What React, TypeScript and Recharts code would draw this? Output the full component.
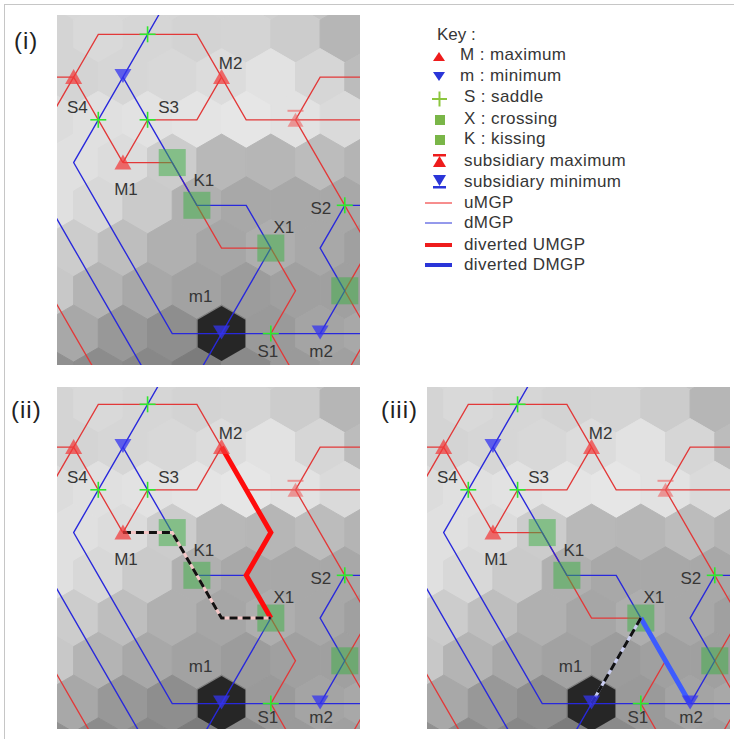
import React from "react";
import { ScatterChart, Scatter, XAxis, YAxis } from "recharts";

type Pt = [number, number];

// Cells sit on a pointy-top hex lattice: c counts half-cells across, r counts rows, c + r is even.
// Grey level of every cell, row by row from r = -1 (odd rows start at c = -1, even rows at c = 0).
const FIRST_ROW = -1;
const greyRows: number[][] = [
  [214, 216, 216, 214, 212, 208, 196, 176],
  [212, 217, 214, 211, 212, 204, 182],
  [208, 212, 214, 216, 220, 226, 214, 188],
  [220, 224, 226, 228, 230, 226, 218],
  [220, 224, 220, 204, 184, 182, 188, 180],
  [224, 216, 202, 176, 168, 168, 168],
  [216, 204, 190, 176, 166, 174, 168, 160],
  [200, 180, 168, 162, 156, 160, 160],
  [176, 168, 152, 142, 128, 154, 164, 168],
  [144, 140, 136, 124, 138, 154, 160],
];

// maximum gradient paths, through cell centres
const uMGP: Pt[][] = [
  [[-1, 1], [1, 1], [2, 0], [6, 0], [7, 1], [8, 2], [14, 2]],
  [[-1, 3], [1, 1], [2, 2], [3, 3]],
  [[3, 3], [4, 2], [6, 2], [7, 1]],
  [[3, 3], [5, 3], [6, 4], [7, 5], [9, 5], [10, 6], [9, 7], [10, 8], [11, 9]],
  [[10, 2], [11, 1], [14, 1]],
  [[10, 2], [11, 3], [12, 4], [13, 5], [12, 6], [13, 7], [12, 8], [11, 9]],
  [[-1, 5], [0, 6], [1, 7], [2, 8], [3, 9]],
];
const dMGP: Pt[][] = [
  [[5, -1], [4, 0], [3, 1], [2, 2], [1, 3], [2, 4], [3, 5], [4, 6], [5, 7], [14, 7]],
  [[3, 1], [4, 2], [5, 3], [6, 4], [8, 4], [9, 5], [8, 6], [7, 7], [6, 8], [5, 9]],
  [[14, 4], [12, 4], [11, 5], [12, 6], [11, 7]],
  [[-1, 3], [0, 4], [1, 5], [2, 6], [3, 7], [4, 8], [5, 9]],
];

const maxima: Pt[] = [[1, 1], [7, 1], [3, 3]];
const minima: Pt[] = [[3, 1], [7, 7], [11, 7]];
const saddles: Pt[] = [[4, 0], [2, 2], [4, 2], [12, 4], [9, 7]];
const crossings: Pt[] = [[9, 5], [12, 6]];
const kissings: Pt[] = [[5, 3], [6, 4]];
const subMaxima: Pt[] = [[10, 2]];
const pits: Pt[] = [[7, 7]];

const pointNames = ["S4", "S3", "M2", "M1", "K1", "X1", "S2", "m1", "S1", "m2"];
const pointAt: Pt[] = [[2, 2], [4, 2], [7, 1], [3, 3], [6, 4], [9, 5], [12, 4], [7, 7], [9, 7], [11, 7]];

// panel (ii) and (iii) changes
const divertedUp: Pt[] = [[7, 1], [8, 2], [9, 3], [8, 4], [9, 5]];
const rerouteUp: Pt[] = [[3, 3], [5, 3], [6, 4], [7, 5], [9, 5]];
const divertedDown: Pt[] = [[9, 5], [10, 6], [11, 7]];
const rerouteDown: Pt[] = [[9, 5], [8, 6], [7, 7]];

const keyLabels = [
  "M : maximum",
  "m : minimum",
  "S : saddle",
  "X : crossing",
  "K : kissing",
  "subsidiary maximum",
  "subsidiary minimum",
  "uMGP",
  "dMGP",
  "diverted UMGP",
  "diverted DMGP",
];
const panelNames = ["(i)", "(ii)", "(iii)"];

// ---- styling ----
const U = 24.65; // px per half cell
const H = 42.75; // px per row
const FONT = "'Liberation Sans', Arial, sans-serif";
const TEXT = "#363636";
const RED = "#e23838";
const BLUE = "#2828dc";

const LABEL_OFFSET: Record<string, Pt> = {
  S4: [-21, -12],
  S3: [21, -12],
  M2: [9, -14],
  M1: [3, 27],
  K1: [7, -25],
  X1: [13, -21],
  S2: [-24, 3],
  m1: [-21, -37],
  S1: [-3, 18],
  m2: [1, 18],
};

const cells = greyRows.flatMap((row, i) => {
  const r = FIRST_ROW + i;
  const c0 = r % 2 === 0 ? 0 : -1;
  return row.map((g, k) => ({ c: c0 + 2 * k, r, g }));
});
const rows = (pts: Pt[]) => pts.map(([c, r]) => ({ c, r }));
const labelRows = pointNames.map((name, i) => ({ c: pointAt[i][0], r: pointAt[i][1], name }));

const hexPoints = (cx: number, cy: number, R: number) =>
  [90, 150, 210, 270, 330, 30]
    .map((a) => {
      const t = (a * Math.PI) / 180;
      return `${cx + R * Math.cos(t)},${cy - R * Math.sin(t)}`;
    })
    .join(" ");

const noDot = () => <g />;
const hexCell = (p: any) => {
  const col = `rgb(${p.payload.g},${p.payload.g},${p.payload.g})`;
  return <polygon points={hexPoints(p.cx, p.cy, 28.5)} fill={col} stroke={col} strokeWidth={1} />;
};
const pitCell = (p: any) => <polygon points={hexPoints(p.cx, p.cy, 27.5)} fill="#262626" />;
const maxMark = (p: any) => (
  <polygon
    points={`${p.cx},${p.cy - 8} ${p.cx - 8.5},${p.cy + 7} ${p.cx + 8.5},${p.cy + 7}`}
    fill="#f23a3a"
    fillOpacity={0.72}
  />
);
const minMark = (p: any) => (
  <polygon
    points={`${p.cx - 8.5},${p.cy - 8} ${p.cx + 8.5},${p.cy - 8} ${p.cx},${p.cy + 6}`}
    fill="#3434f0"
    fillOpacity={0.75}
  />
);
const subMaxMark = (p: any) => (
  <g fill="#f06060" stroke="#f06060" fillOpacity={0.6} strokeOpacity={0.6}>
    <line x1={p.cx - 8} x2={p.cx + 8} y1={p.cy - 9} y2={p.cy - 9} strokeWidth={2} />
    <polygon points={`${p.cx},${p.cy - 7} ${p.cx - 8},${p.cy + 7} ${p.cx + 8},${p.cy + 7}`} stroke="none" />
  </g>
);
const saddleMark = (p: any) => (
  <g stroke="#2ee82e" strokeWidth={1.6}>
    <line x1={p.cx - 8} x2={p.cx + 8} y1={p.cy} y2={p.cy} />
    <line x1={p.cx} x2={p.cx} y1={p.cy - 8} y2={p.cy + 8} />
  </g>
);
const squareMark = (p: any) => (
  <rect x={p.cx - 13.5} y={p.cy - 13.5} width={27} height={27} fill="#3cb043" fillOpacity={0.5} />
);
// the lower panels are a little tighter at the bottom, so the bottom-row names sit higher there
const labelMark = (lowRowDy: number) => (p: any) => {
  const [dx, dy0] = LABEL_OFFSET[p.payload.name];
  const dy = p.payload.name === "S1" || p.payload.name === "m2" ? lowRowDy : dy0;
  return (
    <text
      x={p.cx + dx}
      y={p.cy + dy}
      textAnchor="middle"
      dominantBaseline="central"
      fontSize={17}
      fontFamily={FONT}
      fill={TEXT}
    >
      {p.payload.name}
    </text>
  );
};

function path(pts: Pt[], stroke: string, width: number, dash?: string) {
  return (
    <Scatter
      data={rows(pts)}
      line={{ stroke, strokeWidth: width, strokeDasharray: dash }}
      lineType="joint"
      shape={noDot}
      isAnimationActive={false}
    />
  );
}

function Panel({ width, height, rTop, mode }: { width: number; height: number; rTop: number; mode: number }) {
  const cLeft = 0.325;
  return (
    <ScatterChart width={width} height={height} margin={{ top: 0, right: 0, bottom: 0, left: 0 }}>
      <XAxis type="number" dataKey="c" domain={[cLeft, cLeft + width / U]} allowDataOverflow hide />
      <YAxis type="number" dataKey="r" domain={[rTop, rTop + height / H]} allowDataOverflow reversed hide />
      <Scatter data={cells} shape={hexCell} isAnimationActive={false} />
      <Scatter data={rows(pits)} shape={pitCell} isAnimationActive={false} />
      {uMGP.map((p) => path(p, RED, 1.3))}
      {dMGP.map((p) => path(p, BLUE, 1.35))}
      <Scatter data={rows([...kissings, ...crossings])} shape={squareMark} isAnimationActive={false} />
      {mode === 1 && path(divertedUp, "#ff0c0c", 5)}
      {mode === 1 && path(rerouteUp, "#f4c6c6", 3)}
      {mode === 1 && path(rerouteUp, "#111", 3, "8 5")}
      {mode === 2 && path(divertedDown, "#3d5cff", 5)}
      {mode === 2 && path(rerouteDown, "#c8ccf0", 3)}
      {mode === 2 && path(rerouteDown, "#111", 3, "8 5")}
      <Scatter data={rows(saddles)} shape={saddleMark} isAnimationActive={false} />
      <Scatter data={rows(maxima)} shape={maxMark} isAnimationActive={false} />
      <Scatter data={rows(minima)} shape={minMark} isAnimationActive={false} />
      <Scatter data={rows(subMaxima)} shape={subMaxMark} isAnimationActive={false} />
      <Scatter data={labelRows} shape={labelMark(mode === 0 ? 18 : 14)} isAnimationActive={false} />
    </ScatterChart>
  );
}

function KeyIcon({ i }: { i: number }) {
  const red = "#ee1c1c";
  const blue = "#2a35d8";
  const green = "#8cc63f";
  let icon: React.ReactNode = null;
  if (i === 0) icon = <polygon points="15,7 9,16 21,16" fill={red} />;
  if (i === 1) icon = <polygon points="9,6 21,6 15,15" fill={blue} />;
  if (i === 2)
    icon = (
      <g stroke={green} strokeWidth={2}>
        <line x1={8} x2={23} y1={12} y2={12} />
        <line x1={15.5} x2={15.5} y1={4.5} y2={19.5} />
      </g>
    );
  if (i === 3 || i === 4) icon = <rect x={11} y={6} width={10} height={10} fill="#7ab648" />;
  if (i === 5)
    icon = (
      <g fill={red}>
        <rect x={9} y={3} width={13} height={2.5} />
        <polygon points="15.5,5 9,16 22,16" />
      </g>
    );
  if (i === 6)
    icon = (
      <g fill={blue}>
        <polygon points="9,3 22,3 15.5,14" />
        <rect x={9} y={14} width={13} height={2.5} />
      </g>
    );
  if (i >= 7) {
    const col = i % 2 === 1 ? red : blue;
    icon = <line x1={1} x2={28} y1={10} y2={10} stroke={col} strokeWidth={i >= 9 ? 4 : 1} />;
  }
  return (
    <svg width={32} height={20} style={{ position: "absolute", left: 424, top: -10 }}>
      {icon}
    </svg>
  );
}

const keyRowY = [55, 76, 97, 119, 139, 161, 182, 203, 223, 245, 265];

export default function App() {
  const panels = [
    { left: 57, top: 15, height: 350, rTop: -0.4515 },
    { left: 57, top: 387, height: 342, rTop: -0.405 },
    { left: 427, top: 387, height: 342, rTop: -0.405 },
  ];
  const nameAt = [
    { x: 14, y: 41 },
    { x: 11, y: 410 },
    { x: 381, y: 410 },
  ];
  return (
    <div style={{ position: "relative", width: 734, height: 739, background: "#fff", fontFamily: FONT, overflow: "hidden" }}>
      <style>{"body{margin:0}"}</style>
      <div
        style={{
          position: "absolute",
          left: 4,
          top: 4,
          width: 760,
          height: 760,
          borderTop: "1px solid #c6c6c6",
          borderLeft: "1px solid #c6c6c6",
        }}
      />
      {panels.map((p, i) => (
        <div key={i} style={{ position: "absolute", left: p.left, top: p.top }}>
          <Panel width={303} height={p.height} rTop={p.rTop} mode={i} />
        </div>
      ))}
      {panelNames.map((n, i) => (
        <div
          key={n}
          style={{
            position: "absolute",
            left: nameAt[i].x,
            top: nameAt[i].y - 14,
            fontSize: 24,
            lineHeight: "28px",
            letterSpacing: 1,
            color: "#222",
          }}
        >
          {n}
        </div>
      ))}
      <div style={{ position: "absolute", left: 437, top: 35 - 10, fontSize: 17, lineHeight: "20px", color: TEXT }}>
        Key :
      </div>
      {keyLabels.map((t, i) => (
        <div key={t} style={{ position: "absolute", left: 0, top: keyRowY[i] }}>
          <KeyIcon i={i} />
          <div
            style={{
              position: "absolute",
              left: i < 2 ? 460 : 464,
              top: -10,
              fontSize: 17,
              lineHeight: "20px",
              letterSpacing: 0.4,
              color: TEXT,
              whiteSpace: "nowrap",
            }}
          >
            {t}
          </div>
        </div>
      ))}
    </div>
  );
}
